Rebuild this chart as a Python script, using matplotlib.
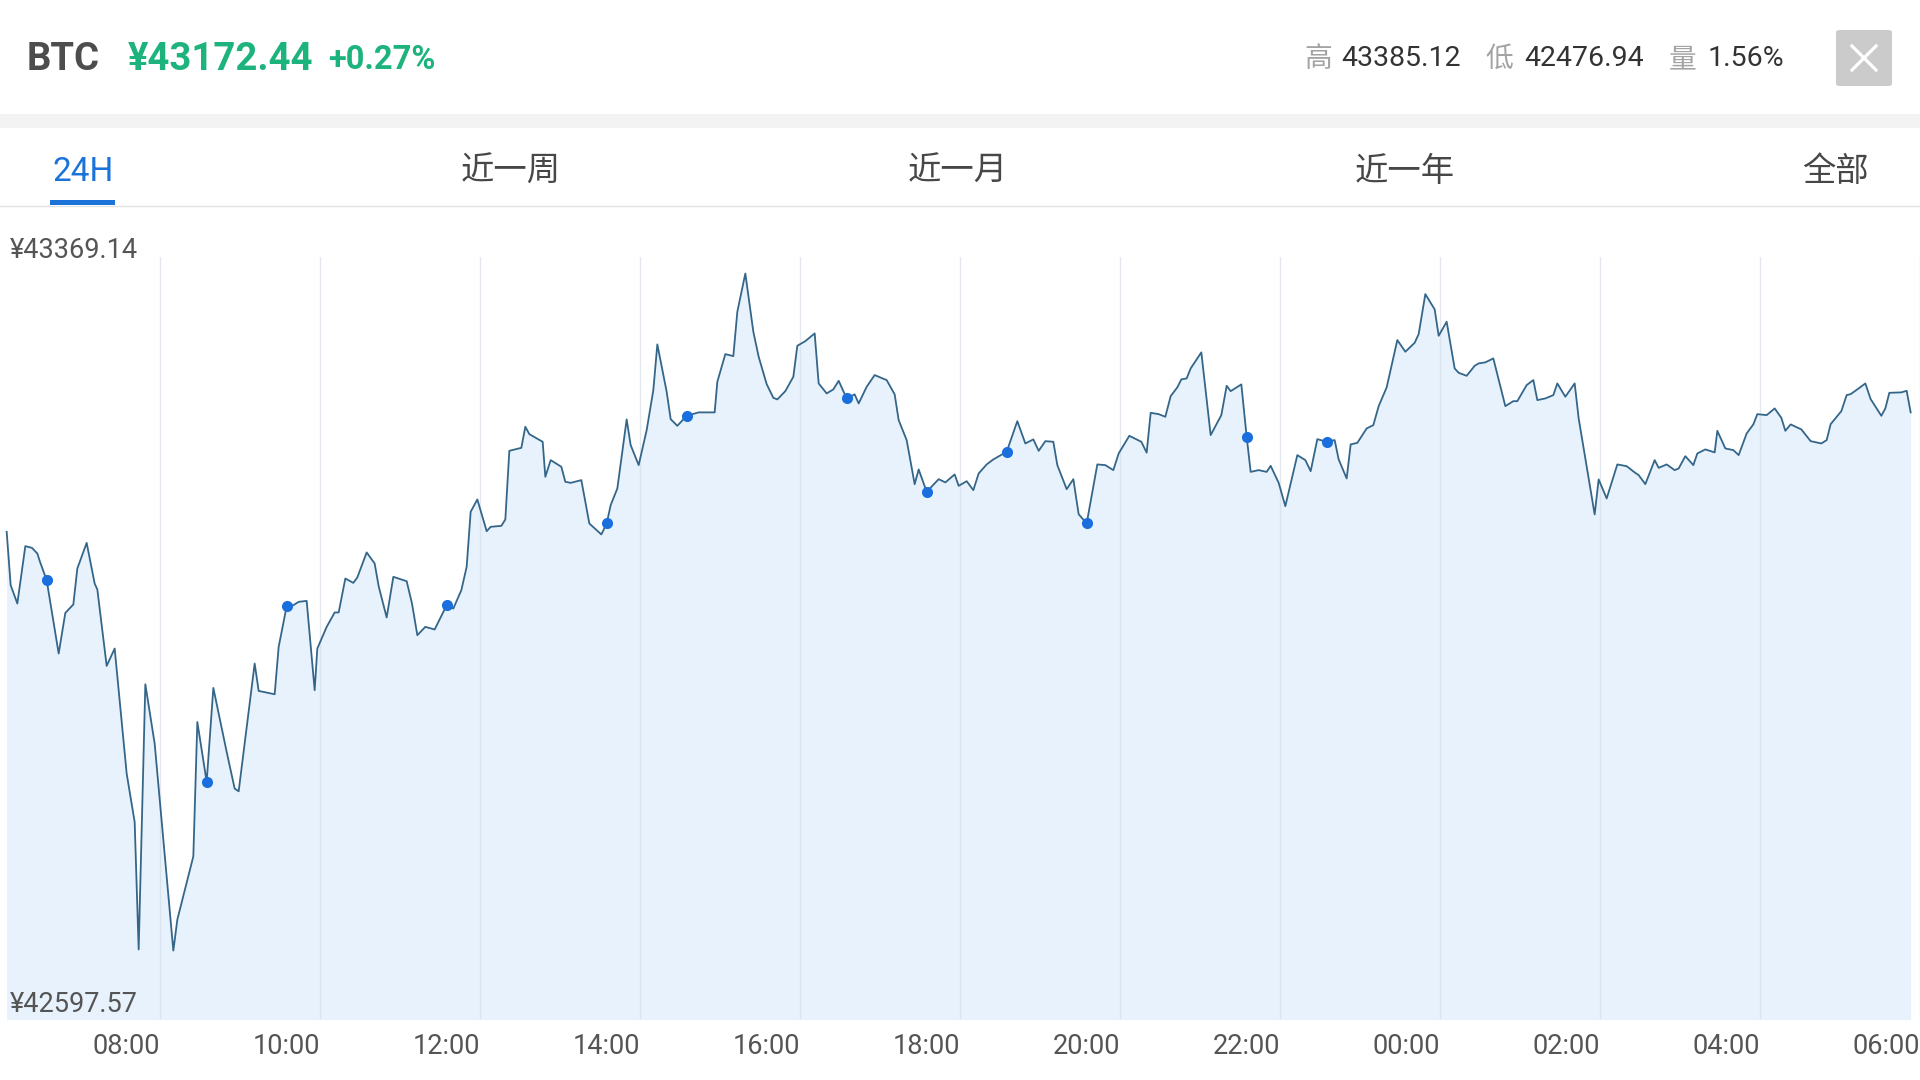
"""BTC 24H price chart (mobile quote panel) recreated with matplotlib."""

import matplotlib
matplotlib.use('Agg')
import matplotlib.pyplot as plt  # noqa: E402
from matplotlib.lines import Line2D  # noqa: E402
from matplotlib.patches import Rectangle, FancyBboxPatch  # noqa: E402

plt.rcParams['font.family'] = ['Roboto', 'Noto Sans CJK SC', 'DejaVu Sans']

W, H = 1920, 1080

# Header quote
SYMBOL = 'BTC'
LAST_PRICE = '¥43172.44'
CHANGE = '+0.27%'
STATS_LABELS = ['高', '低', '量']
STATS_VALUES = ['43385.12', '42476.94', '1.56%']

# Range tabs
TABS = ['24H', '近一周', '近一月', '近一年', '全部']

# Minutes since 06:00 and price (CNY)
minutes = [
    5, 8, 13, 19, 24, 28, 30, 35, 44, 49, 55, 58, 65, 71, 73, 80, 86, 95,
    101, 104, 109, 116, 130, 133, 145, 148, 155, 160, 170, 176, 179, 191,
    194, 206, 209, 215, 220, 224, 230, 236, 238, 245, 251, 254, 259, 265,
    268, 275, 281, 284, 290, 295, 305, 309, 313, 319, 326, 335, 340, 346,
    350, 353, 358, 365, 368, 376, 379, 382, 391, 394, 397, 407, 409, 413,
    421, 424, 428, 436, 442, 451, 455, 458, 463, 470, 473, 479, 485, 490,
    493, 500, 503, 508, 515, 524, 536, 538, 544, 550, 553, 559, 565, 569,
    575, 580, 583, 589, 595, 598, 604, 611, 614, 620, 625, 629, 635, 641,
    644, 650, 656, 665, 671, 674, 680, 686, 689, 695, 704, 709, 716, 719,
    725, 730, 734, 740, 745, 755, 763, 769, 775, 779, 784, 790, 793, 800,
    805, 809, 815, 823, 829, 835, 839, 847, 856, 860, 863, 869, 874, 878,
    883, 886, 890, 893, 901, 908, 916, 920, 923, 931, 935, 938, 944, 950,
    953, 959, 964, 973, 979, 983, 988, 995, 1001, 1004, 1010, 1013, 1018,
    1025, 1030, 1034, 1040, 1048, 1054, 1061, 1064, 1069, 1076, 1079, 1085,
    1091, 1094, 1100, 1106, 1109, 1114, 1120, 1129, 1135, 1138, 1145, 1150,
    1153, 1159, 1165, 1168, 1174, 1181, 1184, 1196, 1199, 1205, 1213, 1220,
    1226, 1229, 1234, 1241, 1244, 1250, 1256, 1259, 1264, 1270, 1273, 1279,
    1286, 1288, 1294, 1300, 1304, 1310, 1315, 1318, 1325, 1331, 1336, 1339,
    1343, 1351, 1358, 1366, 1370, 1373, 1381, 1385, 1388, 1394, 1399, 1403,
    1411, 1414, 1417, 1426, 1430, 1433,
]
prices = [
    43074.8, 43014.0, 42993.1, 43058.5, 43056.5, 43050.1, 43040.6, 43019.7,
    42936.1, 42982.4, 42992.0, 43033.0, 43062.2, 43015.9, 43009.1, 42922.0,
    42941.8, 42799.3, 42744.1, 42598.9, 42901.1, 42833.5, 42597.57, 42632.9,
    42705.0, 42858.1, 42789.8, 42896.9, 42824.0, 42782.2, 42779.1, 42924.7,
    42893.5, 42889.7, 42943.7, 42990.0, 42991.2, 42995.0, 42996.1, 42894.3,
    42941.8, 42966.5, 42982.9, 42982.9, 43021.6, 43016.6, 43022.8, 43051.3,
    43038.7, 43012.8, 42977.2, 43023.5, 43018.5, 42993.1, 42957.0, 42966.5,
    42963.5, 42991.2, 42987.4, 43008.3, 43034.9, 43097.6, 43111.7, 43075.5,
    43080.5, 43081.6, 43088.9, 43167.1, 43170.5, 43194.5, 43186.1, 43177.4,
    43137.5, 43156.5, 43148.9, 43131.8, 43130.6, 43133.7, 43084.3, 43071.8,
    43084.3, 43105.2, 43124.2, 43202.9, 43173.6, 43150.8, 43190.7, 43236.3,
    43288.4, 43234.4, 43203.2, 43195.6, 43207.0, 43210.9, 43210.9, 43245.8,
    43277.3, 43275.0, 43325.6, 43369.14, 43302.8, 43274.3, 43243.1, 43227.5,
    43225.7, 43235.1, 43251.5, 43286.8, 43292.1, 43300.9, 43243.9, 43232.5,
    43237.1, 43246.9, 43226.8, 43231.4, 43221.1, 43240.1, 43253.4, 43247.7,
    43231.4, 43202.1, 43179.3, 43129.1, 43145.9, 43120.4, 43134.8, 43131.1,
    43140.2, 43127.2, 43132.5, 43122.3, 43141.3, 43151.6, 43157.3, 43166.0,
    43200.9, 43175.5, 43180.1, 43167.1, 43178.1, 43177.4, 43150.8, 43123.4,
    43134.8, 43094.9, 43084.3, 43151.6, 43150.8, 43145.1, 43164.1, 43184.2,
    43177.4, 43165.0, 43210.4, 43208.9, 43205.9, 43229.4, 43239.4, 43248.5,
    43249.6, 43261.0, 43279.3, 43185.0, 43207.8, 43241.2, 43235.1, 43242.8,
    43183.1, 43143.1, 43145.1, 43143.1, 43150.0, 43130.6, 43104.0, 43162.2,
    43156.5, 43143.9, 43180.4, 43177.4, 43179.3, 43157.3, 43135.6, 43174.4,
    43176.2, 43192.6, 43196.4, 43218.0, 43239.4, 43293.3, 43280.0, 43290.2,
    43300.1, 43345.7, 43328.3, 43298.2, 43314.2, 43261.0, 43256.0, 43252.6,
    43264.0, 43266.7, 43267.9, 43272.4, 43218.0, 43223.7, 43223.7, 43242.0,
    43247.7, 43224.9, 43226.8, 43230.6, 43243.9, 43228.7, 43243.9, 43204.0,
    43094.6, 43134.5, 43112.8, 43151.6, 43149.6, 43142.5, 43139.4, 43129.1,
    43156.5, 43147.7, 43151.6, 43145.1, 43147.0, 43161.0, 43150.8, 43164.1,
    43168.7, 43165.3, 43189.9, 43169.8, 43167.9, 43162.2, 43186.9, 43197.2,
    43208.9, 43207.8, 43215.4, 43204.7, 43189.9, 43197.2, 43191.5, 43178.1,
    43175.5, 43179.3, 43197.5, 43212.3, 43230.6, 43231.7, 43238.2, 43243.9,
    43226.0, 43207.0, 43215.4, 43233.2, 43233.7, 43235.5, 43210.9,
]

# Hourly marker dots (minutes since 06:00)
dot_minutes = [35, 155, 215, 335, 455, 515, 635, 695, 755, 815, 935, 995]

tick_minutes = [120, 240, 360, 480, 600, 720, 840, 960, 1080, 1200, 1320, 1440]
tick_labels = ['08:00', '10:00', '12:00', '14:00', '16:00', '18:00',
               '20:00', '22:00', '00:00', '02:00', '04:00', '06:00']

GREEN = '#1db37c'
BLUE = '#1b72d8'
LINE = '#34668a'
FILL = '#e8f2fc'


def fx(x):
    return x / W


def fy(y):
    return 1 - y / H


def draw_header(fig):
    """Quote line, close button and range tabs."""
    fig.text(fx(27), fy(60), SYMBOL, fontsize=27.5, weight='bold',
             color='#4d4d4d', va='center', ha='left')
    fig.text(fx(128), fy(60), LAST_PRICE, fontsize=27.5, weight='bold',
             color=GREEN, va='center', ha='left')
    fig.text(fx(328), fy(60), CHANGE, fontsize=23.5, weight='bold',
             color=GREEN, va='center', ha='left')

    label_x = [1304, 1485, 1669]
    value_x = [1341, 1524, 1708]
    for lab, val, lx, vx in zip(STATS_LABELS, STATS_VALUES, label_x, value_x):
        fig.text(fx(lx), fy(59), lab, fontsize=20, color='#a3a3a3',
                 va='center', ha='left', family=['Noto Sans CJK SC'])
        fig.text(fx(vx), fy(59), val, fontsize=20.5, color='#333333',
                 va='center', ha='left')

    # close button
    fig.add_artist(FancyBboxPatch(
        (fx(1836), fy(86)), fx(56), 56 / H,
        boxstyle='round,pad=0,rounding_size=0.002',
        transform=fig.transFigure, facecolor='#cbcbcb', edgecolor='none'))
    cx, cy, s = 1864, 58, 12
    for dx in (-1, 1):
        fig.add_artist(Line2D([fx(cx - s), fx(cx + s)],
                              [fy(cy - s * dx), fy(cy + s * dx)],
                              transform=fig.transFigure, color='white',
                              lw=2.3))

    # grey separator band
    fig.add_artist(Rectangle((0, fy(128)), 1, 14 / H, transform=fig.transFigure,
                             facecolor='#f3f3f3', edgecolor='none'))

    tab_x = [83, 511, 958, 1405, 1836]
    for i, (tab, tx) in enumerate(zip(TABS, tab_x)):
        fig.text(fx(tx), fy(172), tab, fontsize=24,
                 color=BLUE if i == 0 else '#474747', va='center', ha='center',
                 family=['Roboto', 'Noto Sans CJK SC'])
    fig.add_artist(Rectangle((fx(50), fy(205)), fx(65), 5 / H,
                             transform=fig.transFigure, facecolor=BLUE,
                             edgecolor='none'))
    fig.add_artist(Line2D([0, 1], [fy(205.5), fy(205.5)],
                          transform=fig.transFigure, color='#e2e2e2', lw=1))


def draw_chart(fig):
    """Area line chart with hourly markers."""
    ax = fig.add_axes([0, fy(1019), 1, (1019 - 257) / H])

    ymax, ymin = max(prices), min(prices)
    rng = ymax - ymin
    ax.set_xlim(0, 1440)
    ax.set_ylim(ymin - rng * 0.101, ymax + rng * 0.0244)

    ax.fill_between(minutes, prices, ymin - rng * 0.2, color=FILL, lw=0,
                    zorder=1)
    ax.plot(minutes, prices, color=LINE, lw=1.3, zorder=2)

    dot_p = [prices[minutes.index(m)] for m in dot_minutes]
    ax.plot(dot_minutes, dot_p, 'o', color='#1a6fdc', ms=8, mew=0, zorder=3)

    ax.set_xticks(tick_minutes)
    ax.set_xticklabels(tick_labels, ha='right')
    ax.set_yticks([])
    ax.tick_params(axis='x', length=0, pad=10, labelsize=19.5,
                   labelcolor='#555555')
    ax.grid(axis='x', color='#c9d5e1', lw=1, alpha=0.5)
    for side in ax.spines.values():
        side.set_visible(False)
    ax.patch.set_alpha(0)

    fig.text(fx(10), fy(251), f'¥{ymax:.2f}', fontsize=19.5, color='#555555',
             va='center', ha='left')
    fig.text(fx(10), fy(1004), f'¥{ymin:.2f}', fontsize=19.5, color='#555555',
             va='center', ha='left')


fig = plt.figure(figsize=(W / 100, H / 100), dpi=100)
fig.patch.set_facecolor('white')
draw_header(fig)
draw_chart(fig)
fig.savefig('out.png', dpi=100)
plt.close(fig)
